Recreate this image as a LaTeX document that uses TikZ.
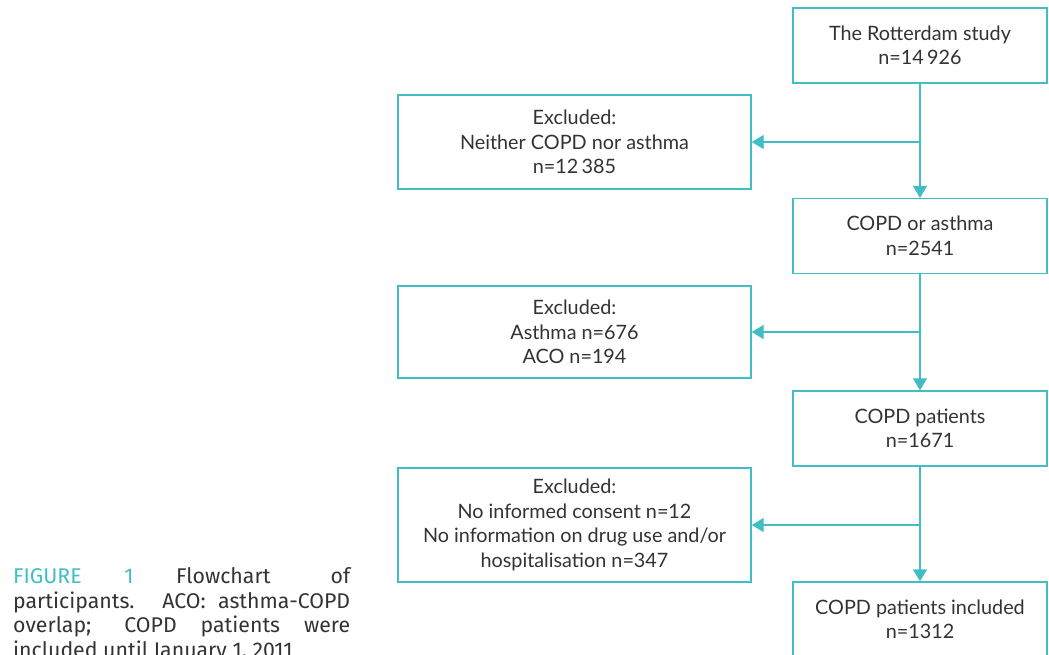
\documentclass[tikz,border=0pt]{standalone}
\usepackage{fontspec}
\setmainfont{Lato}
\newfontfamily\capfont{Fira Sans}
\usetikzlibrary{arrows.meta}
\definecolor{teal1}{RGB}{64,190,196}
\definecolor{txt}{RGB}{51,51,51}
\tikzset{
  box/.style={draw=teal1, line width=1.4pt, fill=white, text=txt, align=center,
    inner sep=0pt, font=\fontsize{19.8}{24.5}\selectfont},
  mainbox/.style={box, minimum width=254pt, minimum height=75pt},
  exbox/.style={box, minimum width=353pt},
  arr/.style={draw=teal1, line width=1.4pt, -{Triangle[width=14pt,length=12pt]}},
}
\begin{document}
\begin{tikzpicture}[x=1pt,y=-1pt]
\useasboundingbox (0,0) rectangle (1049,654);
\clip (0,0) rectangle (1049,654);
\node[mainbox] (b1) at (920,45.5) {The Rotterdam study\\n=14\,926};
\node[exbox, minimum height=94pt] (e1) at (574.5,142) {Excluded:\\Neither COPD nor asthma\\n=12\,385};
\node[mainbox] (b2) at (920,236) {COPD or asthma\\n=2541};
\node[exbox, minimum height=92pt] (e2) at (574.5,332) {Excluded:\\Asthma n=676\\ACO n=194};
\node[mainbox] (b3) at (920,428.5) {COPD patients\\n=1671};
\node[exbox, minimum height=114pt] (e3) at (574.5,525) {Excluded:\\No informed consent n=12\\No information on drug use and/or\\hospitalisation n=347};
\node[mainbox] (b4) at (920,619.5) {COPD patients included\\n=1312};
\coordinate (j1) at (b1.south |- e1.east);
\coordinate (j2) at (b2.south |- e2.east);
\coordinate (j3) at (b3.south |- e3.east);
\draw[arr] (b1.south) -- (b2.north);
\draw[arr] (b2.south) -- (b3.north);
\draw[arr] (b3.south) -- (b4.north);
\draw[arr] (j1) -- (e1.east);
\draw[arr] (j2) -- (e2.east);
\draw[arr] (j3) -- (e3.east);
\node[anchor=north west, inner sep=0pt, text=txt] (cap) at (13,567.5)
  {\parbox{337pt}{\capfont\fontsize{21.3}{24.5}\selectfont\sloppy
   \textcolor{teal1}{FIGURE\hspace{2em}1}\hspace{2em}Flowchart of\linebreak
   participants. ACO: asthma-COPD\linebreak
   overlap; COPD patients were\linebreak
   included until January 1, 2011}};
\end{tikzpicture}
\end{document}
